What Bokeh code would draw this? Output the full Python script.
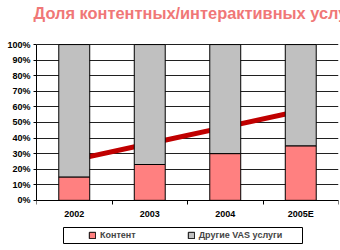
from bokeh.plotting import figure
from bokeh.models import (FixedTicker, PrintfTickFormatter, Legend, LegendItem,
                          Range1d, BoxAnnotation)
from bokeh.embed import file_html
from bokeh.resources import INLINE

title_text = "Доля контентных/интерактивных услуг"
categories = ["2002", "2003", "2004", "2005E"]
content = [15, 23, 30, 35]
other = [85, 77, 70, 65]
trend = [26, 36.5, 47, 57.5]
y_ticks = list(range(0, 101, 10))

FONT = "Liberation Sans"

x = [i + 0.5 for i in range(len(categories))]
other_top = [c + o for c, o in zip(content, other)]

# frame extends above 100% and below 0% so the legend can sit inside it
p = figure(width=340, height=250, output_backend="svg", toolbar_location=None,
           x_range=Range1d(0, len(categories)), y_range=Range1d(-29.0, 111.6),
           min_border_left=36, min_border_right=2, min_border_top=0,
           min_border_bottom=5)
p.background_fill_color = "white"
p.border_fill_color = "white"
p.outline_line_color = None

xa = p.below[0]
ya = p.left[0]

p.title.text = title_text
p.title.text_font = FONT
p.title.text_font_size = "16.4px"
p.title.text_font_style = "bold"
p.title.text_color = "#F07777"
p.title.align = "left"
p.title.vertical_align = "top"
p.title.offset = -3
p.title.standoff = 6

p.line(x, trend, line_color="#C00000", line_width=5)
r1 = p.vbar(x=x, bottom=0, top=content, width=0.41, fill_color="#FF8080",
            line_color="black", line_width=1)
r2 = p.vbar(x=x, bottom=content, top=other_top, width=0.41, fill_color="#C0C0C0",
            line_color="black", line_width=1)

p.xgrid.visible = False
p.ygrid.ticker = FixedTicker(ticks=y_ticks)
p.ygrid.grid_line_color = "#202020"
p.ygrid.grid_line_width = 1

ya.ticker = FixedTicker(ticks=y_ticks)
ya.bounds = (0, 100)
ya.formatter = PrintfTickFormatter(format="%d%%")
ya.major_label_text_font = FONT
ya.major_label_text_font_size = "9px"
ya.major_label_text_font_style = "bold"
ya.major_label_text_color = "black"
ya.major_tick_out = 3
ya.major_tick_in = 0
ya.minor_tick_out = 0
ya.minor_tick_in = 0
ya.axis_line_color = "black"
ya.major_tick_line_color = "black"
ya.major_label_standoff = 3

xa.fixed_location = 0
xa.ticker = FixedTicker(ticks=x, minor_ticks=list(range(len(categories) + 1)))
xa.major_label_overrides = {xv: c for xv, c in zip(x, categories)}
xa.major_label_text_font = FONT
xa.major_label_text_font_size = "9px"
xa.major_label_text_font_style = "bold"
xa.major_label_text_color = "black"
xa.major_tick_out = 0
xa.major_tick_in = 0
xa.minor_tick_out = 4
xa.minor_tick_in = 0
xa.minor_tick_line_color = "black"
xa.axis_line_color = "black"
xa.major_label_standoff = 5

box = BoxAnnotation(left=27, right=266, top=18, bottom=2,
                    left_units="screen", right_units="screen",
                    top_units="screen", bottom_units="screen",
                    fill_alpha=0, line_color="black", line_width=1, line_alpha=1)
p.add_layout(box)

legend = Legend(items=[LegendItem(label="Контент", renderers=[r1]),
                       LegendItem(label="Другие VAS услуги", renderers=[r2])],
                orientation="horizontal", location=(52, 5), padding=0,
                spacing=51, glyph_width=8, glyph_height=8, label_standoff=4,
                label_height=10, label_text_font=FONT, label_text_font_size="9px",
                label_text_font_style="bold", border_line_color=None,
                background_fill_alpha=0, margin=0)
p.add_layout(legend)

open("out.html", "w").write(file_html(p, INLINE))
